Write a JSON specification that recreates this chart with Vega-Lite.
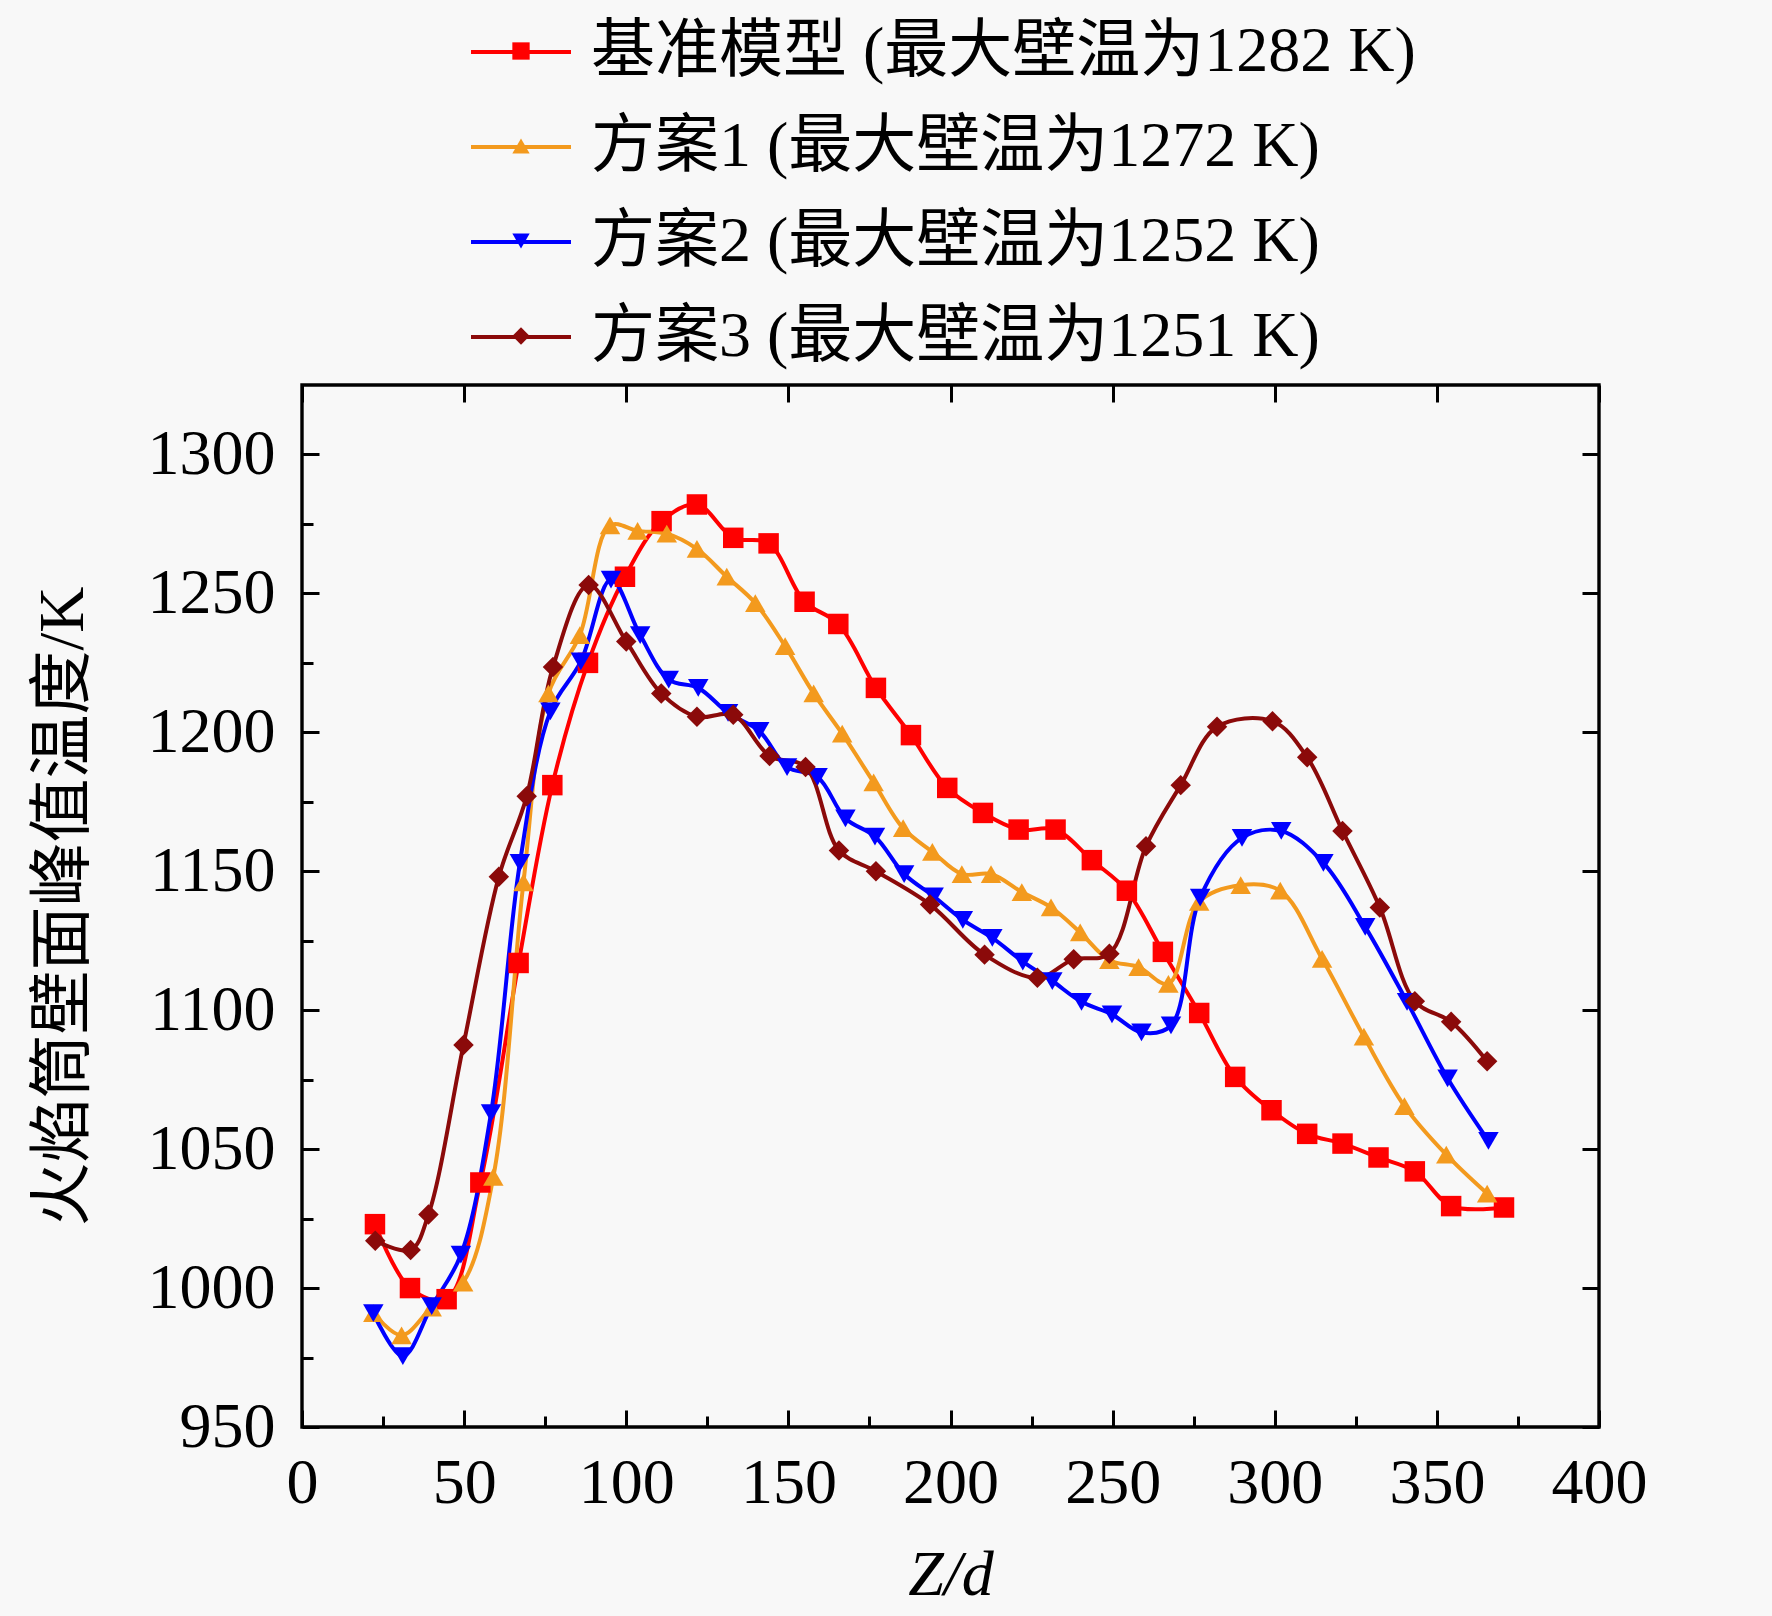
{
  "$schema": "https://vega.github.io/schema/vega-lite/v6.json",
  "width": 1297,
  "height": 1042,
  "autosize": {"type": "none"},
  "padding": {"left": 302, "top": 385, "right": 173, "bottom": 189},
  "background": "#f8f8f8",
  "config": {
    "font": "Liberation Serif, Noto Sans CJK SC",
    "view": {"stroke": "black", "strokeWidth": 3.4},
    "axis": {
      "grid": false, "domain": false,
      "tickColor": "black", "tickWidth": 3,
      "labelFont": "Liberation Serif, Noto Sans CJK SC", "labelFontSize": 64, "labelColor": "black",
      "titleFont": "Liberation Serif, Noto Sans CJK SC", "titleFontSize": 64, "titleFontWeight": "normal", "titleColor": "black"
    },
    "legend": {
      "labelFont": "Liberation Serif, Noto Sans CJK SC", "labelFontSize": 64, "labelColor": "black", "labelLimit": 2000
    }
  },
  "data": {"values": [
    {"series": "基准模型 (最大壁温为1282 K)", "z": 22.5, "t": 1023},
    {"series": "基准模型 (最大壁温为1282 K)", "z": 33.3, "t": 1000},
    {"series": "基准模型 (最大壁温为1282 K)", "z": 44.6, "t": 996},
    {"series": "基准模型 (最大壁温为1282 K)", "z": 55, "t": 1038},
    {"series": "基准模型 (最大壁温为1282 K)", "z": 66.8, "t": 1117},
    {"series": "基准模型 (最大壁温为1282 K)", "z": 77.2, "t": 1181},
    {"series": "基准模型 (最大壁温为1282 K)", "z": 88.2, "t": 1225},
    {"series": "基准模型 (最大壁温为1282 K)", "z": 99.6, "t": 1256},
    {"series": "基准模型 (最大壁温为1282 K)", "z": 110.9, "t": 1276},
    {"series": "基准模型 (最大壁温为1282 K)", "z": 121.8, "t": 1282},
    {"series": "基准模型 (最大壁温为1282 K)", "z": 133, "t": 1270},
    {"series": "基准模型 (最大壁温为1282 K)", "z": 143.9, "t": 1268},
    {"series": "基准模型 (最大壁温为1282 K)", "z": 155, "t": 1247},
    {"series": "基准模型 (最大壁温为1282 K)", "z": 165.4, "t": 1239},
    {"series": "基准模型 (最大壁温为1282 K)", "z": 177, "t": 1216},
    {"series": "基准模型 (最大壁温为1282 K)", "z": 187.8, "t": 1199},
    {"series": "基准模型 (最大壁温为1282 K)", "z": 199, "t": 1180},
    {"series": "基准模型 (最大壁温为1282 K)", "z": 210, "t": 1171},
    {"series": "基准模型 (最大壁温为1282 K)", "z": 221, "t": 1165},
    {"series": "基准模型 (最大壁温为1282 K)", "z": 232.4, "t": 1165},
    {"series": "基准模型 (最大壁温为1282 K)", "z": 243.6, "t": 1154},
    {"series": "基准模型 (最大壁温为1282 K)", "z": 254.4, "t": 1143},
    {"series": "基准模型 (最大壁温为1282 K)", "z": 265.5, "t": 1121},
    {"series": "基准模型 (最大壁温为1282 K)", "z": 276.7, "t": 1099},
    {"series": "基准模型 (最大壁温为1282 K)", "z": 287.8, "t": 1076},
    {"series": "基准模型 (最大壁温为1282 K)", "z": 299, "t": 1064},
    {"series": "基准模型 (最大壁温为1282 K)", "z": 310, "t": 1055.5},
    {"series": "基准模型 (最大壁温为1282 K)", "z": 320.9, "t": 1052},
    {"series": "基准模型 (最大壁温为1282 K)", "z": 332, "t": 1047},
    {"series": "基准模型 (最大壁温为1282 K)", "z": 343.2, "t": 1042},
    {"series": "基准模型 (最大壁温为1282 K)", "z": 354.4, "t": 1029.5},
    {"series": "基准模型 (最大壁温为1282 K)", "z": 370.7, "t": 1029},
    {"series": "方案1 (最大壁温为1272 K)", "z": 22, "t": 991},
    {"series": "方案1 (最大壁温为1272 K)", "z": 30.7, "t": 983},
    {"series": "方案1 (最大壁温为1272 K)", "z": 40, "t": 993},
    {"series": "方案1 (最大壁温为1272 K)", "z": 49.7, "t": 1002},
    {"series": "方案1 (最大壁温为1272 K)", "z": 59, "t": 1040},
    {"series": "方案1 (最大壁温为1272 K)", "z": 68.3, "t": 1146},
    {"series": "方案1 (最大壁温为1272 K)", "z": 76, "t": 1214},
    {"series": "方案1 (最大壁温为1272 K)", "z": 85.7, "t": 1235},
    {"series": "方案1 (最大壁温为1272 K)", "z": 95, "t": 1274.5},
    {"series": "方案1 (最大壁温为1272 K)", "z": 103.5, "t": 1272.5},
    {"series": "方案1 (最大壁温为1272 K)", "z": 112.5, "t": 1271.5},
    {"series": "方案1 (最大壁温为1272 K)", "z": 121.8, "t": 1266},
    {"series": "方案1 (最大壁温为1272 K)", "z": 131, "t": 1256},
    {"series": "方案1 (最大壁温为1272 K)", "z": 139.8, "t": 1246.5},
    {"series": "方案1 (最大壁温为1272 K)", "z": 149, "t": 1231},
    {"series": "方案1 (最大壁温为1272 K)", "z": 157.8, "t": 1214},
    {"series": "方案1 (最大壁温为1272 K)", "z": 166.6, "t": 1199.5},
    {"series": "方案1 (最大壁温为1272 K)", "z": 176.3, "t": 1182},
    {"series": "方案1 (最大壁温为1272 K)", "z": 185.4, "t": 1165.5},
    {"series": "方案1 (最大壁温为1272 K)", "z": 194.4, "t": 1157},
    {"series": "方案1 (最大壁温为1272 K)", "z": 203.5, "t": 1149},
    {"series": "方案1 (最大壁温为1272 K)", "z": 212.5, "t": 1149},
    {"series": "方案1 (最大壁温为1272 K)", "z": 222, "t": 1142.5},
    {"series": "方案1 (最大壁温为1272 K)", "z": 231, "t": 1137},
    {"series": "方案1 (最大壁温为1272 K)", "z": 240, "t": 1128},
    {"series": "方案1 (最大壁温为1272 K)", "z": 249, "t": 1118},
    {"series": "方案1 (最大壁温为1272 K)", "z": 258, "t": 1115.5},
    {"series": "方案1 (最大壁温为1272 K)", "z": 267.2, "t": 1109.5},
    {"series": "方案1 (最大壁温为1272 K)", "z": 276.7, "t": 1139},
    {"series": "方案1 (最大壁温为1272 K)", "z": 289.5, "t": 1145},
    {"series": "方案1 (最大壁温为1272 K)", "z": 301.7, "t": 1143},
    {"series": "方案1 (最大壁温为1272 K)", "z": 314.6, "t": 1118.5},
    {"series": "方案1 (最大壁温为1272 K)", "z": 327.5, "t": 1090.5},
    {"series": "方案1 (最大壁温为1272 K)", "z": 340, "t": 1065.5},
    {"series": "方案1 (最大壁温为1272 K)", "z": 352.9, "t": 1048},
    {"series": "方案1 (最大壁温为1272 K)", "z": 365.5, "t": 1034},
    {"series": "方案2 (最大壁温为1252 K)", "z": 22, "t": 991},
    {"series": "方案2 (最大壁温为1252 K)", "z": 31.1, "t": 975.5},
    {"series": "方案2 (最大壁温为1252 K)", "z": 40, "t": 993.5},
    {"series": "方案2 (最大壁温为1252 K)", "z": 49, "t": 1012},
    {"series": "方案2 (最大壁温为1252 K)", "z": 58.3, "t": 1063},
    {"series": "方案2 (最大壁温为1252 K)", "z": 67.2, "t": 1153},
    {"series": "方案2 (最大壁温为1252 K)", "z": 76.6, "t": 1207.5},
    {"series": "方案2 (最大壁温为1252 K)", "z": 86, "t": 1225.5},
    {"series": "方案2 (最大壁温为1252 K)", "z": 95.3, "t": 1255},
    {"series": "方案2 (最大壁温为1252 K)", "z": 104.3, "t": 1235},
    {"series": "方案2 (最大壁温为1252 K)", "z": 113.1, "t": 1219},
    {"series": "方案2 (最大壁温为1252 K)", "z": 122.2, "t": 1216},
    {"series": "方案2 (最大壁温为1252 K)", "z": 131.4, "t": 1207},
    {"series": "方案2 (最大壁温为1252 K)", "z": 141, "t": 1200.5},
    {"series": "方案2 (最大壁温为1252 K)", "z": 149.6, "t": 1187.5},
    {"series": "方案2 (最大壁温为1252 K)", "z": 159, "t": 1184},
    {"series": "方案2 (最大壁温为1252 K)", "z": 167.6, "t": 1169},
    {"series": "方案2 (最大壁温为1252 K)", "z": 176.7, "t": 1162.5},
    {"series": "方案2 (最大壁温为1252 K)", "z": 185.7, "t": 1149},
    {"series": "方案2 (最大壁温为1252 K)", "z": 194.8, "t": 1141},
    {"series": "方案2 (最大壁温为1252 K)", "z": 203.8, "t": 1132.5},
    {"series": "方案2 (最大壁温为1252 K)", "z": 212.9, "t": 1126},
    {"series": "方案2 (最大壁温为1252 K)", "z": 222.3, "t": 1117.5},
    {"series": "方案2 (最大壁温为1252 K)", "z": 231.4, "t": 1110.5},
    {"series": "方案2 (最大壁温为1252 K)", "z": 240.4, "t": 1103},
    {"series": "方案2 (最大壁温为1252 K)", "z": 249.8, "t": 1098.5},
    {"series": "方案2 (最大壁温为1252 K)", "z": 258.9, "t": 1092},
    {"series": "方案2 (最大壁温为1252 K)", "z": 268, "t": 1094.5},
    {"series": "方案2 (最大壁温为1252 K)", "z": 277, "t": 1140.5},
    {"series": "方案2 (最大壁温为1252 K)", "z": 289.9, "t": 1162},
    {"series": "方案2 (最大壁温为1252 K)", "z": 302, "t": 1164.5},
    {"series": "方案2 (最大壁温为1252 K)", "z": 315, "t": 1153},
    {"series": "方案2 (最大壁温为1252 K)", "z": 327.9, "t": 1130},
    {"series": "方案2 (最大壁温为1252 K)", "z": 340.8, "t": 1103},
    {"series": "方案2 (最大壁温为1252 K)", "z": 353.3, "t": 1075.5},
    {"series": "方案2 (最大壁温为1252 K)", "z": 365.9, "t": 1053},
    {"series": "方案3 (最大壁温为1251 K)", "z": 22.6, "t": 1017},
    {"series": "方案3 (最大壁温为1251 K)", "z": 33.5, "t": 1013.7},
    {"series": "方案3 (最大壁温为1251 K)", "z": 39, "t": 1026.5},
    {"series": "方案3 (最大壁温为1251 K)", "z": 49.8, "t": 1087.5},
    {"series": "方案3 (最大壁温为1251 K)", "z": 60.7, "t": 1148},
    {"series": "方案3 (最大壁温为1251 K)", "z": 69.3, "t": 1177},
    {"series": "方案3 (最大壁温为1251 K)", "z": 77.4, "t": 1223.5},
    {"series": "方案3 (最大壁温为1251 K)", "z": 88.4, "t": 1253},
    {"series": "方案3 (最大壁温为1251 K)", "z": 100, "t": 1232.7},
    {"series": "方案3 (最大壁温为1251 K)", "z": 110.8, "t": 1214},
    {"series": "方案3 (最大壁温为1251 K)", "z": 121.8, "t": 1205.6},
    {"series": "方案3 (最大壁温为1251 K)", "z": 133, "t": 1206.3},
    {"series": "方案3 (最大壁温为1251 K)", "z": 144.2, "t": 1191.5},
    {"series": "方案3 (最大壁温为1251 K)", "z": 155.3, "t": 1187.5},
    {"series": "方案3 (最大壁温为1251 K)", "z": 165.6, "t": 1157.5},
    {"series": "方案3 (最大壁温为1251 K)", "z": 177, "t": 1150},
    {"series": "方案3 (最大壁温为1251 K)", "z": 193.7, "t": 1138},
    {"series": "方案3 (最大壁温为1251 K)", "z": 210.5, "t": 1120},
    {"series": "方案3 (最大壁温为1251 K)", "z": 226.8, "t": 1111.7},
    {"series": "方案3 (最大壁温为1251 K)", "z": 238, "t": 1118.3},
    {"series": "方案3 (最大壁温为1251 K)", "z": 249, "t": 1120.3},
    {"series": "方案3 (最大壁温为1251 K)", "z": 260.3, "t": 1159},
    {"series": "方案3 (最大壁温为1251 K)", "z": 271, "t": 1181},
    {"series": "方案3 (最大壁温为1251 K)", "z": 282.2, "t": 1202},
    {"series": "方案3 (最大壁温为1251 K)", "z": 299.3, "t": 1204},
    {"series": "方案3 (最大壁温为1251 K)", "z": 310, "t": 1191},
    {"series": "方案3 (最大壁温为1251 K)", "z": 320.9, "t": 1164.5},
    {"series": "方案3 (最大壁温为1251 K)", "z": 332.4, "t": 1137},
    {"series": "方案3 (最大壁温为1251 K)", "z": 343.2, "t": 1103.2},
    {"series": "方案3 (最大壁温为1251 K)", "z": 354.4, "t": 1095.8},
    {"series": "方案3 (最大壁温为1251 K)", "z": 365.5, "t": 1081.6}
  ]},
  "layer": [
    {
      "mark": {"type": "line", "interpolate": "catmull-rom", "strokeWidth": 4},
      "encoding": {
        "x": {
          "field": "z", "type": "quantitative",
          "scale": {"domain": [0, 400], "nice": false, "zero": false},
          "axis": {
            "orient": "bottom", "title": "Z/d", "titleFontStyle": "italic", "titlePadding": 22,
            "values": [0, 25, 50, 75, 100, 125, 150, 175, 200, 225, 250, 275, 300, 325, 350, 375, 400],
            "format": "d",
            "labelExpr": "datum.value % 50 === 0 ? datum.label : ''",
            "tickSize": {"condition": {"test": "datum.value % 50 === 0", "value": -17}, "value": -11},
            "labelPadding": 41, "labelFlush": false, "labelOverlap": false
          }
        },
        "y": {
          "field": "t", "type": "quantitative",
          "scale": {"domain": [950, 1325], "nice": false, "zero": false},
          "axis": {
            "orient": "left", "title": "火焰筒壁面峰值温度/K", "titlePadding": 52,
            "values": [950, 975, 1000, 1025, 1050, 1075, 1100, 1125, 1150, 1175, 1200, 1225, 1250, 1275, 1300],
            "format": "d",
            "labelExpr": "datum.value % 50 === 0 ? datum.label : ''",
            "tickSize": {"condition": {"test": "datum.value % 50 === 0", "value": -17}, "value": -11},
            "labelPadding": 44, "labelFlush": false, "labelOverlap": false
          }
        },
        "color": {
          "field": "series", "type": "nominal",
          "scale": {
            "domain": ["基准模型 (最大壁温为1282 K)", "方案1 (最大壁温为1272 K)", "方案2 (最大壁温为1252 K)", "方案3 (最大壁温为1251 K)"],
            "range": ["#ff0000", "#f39a1e", "#0000ff", "#8b0a0a"]
          },
          "legend": {
            "orient": "none", "legendX": 167, "legendY": -385, "title": null,
            "symbolType": "stroke", "symbolSize": 10000, "symbolStrokeWidth": 4,
            "labelOffset": 18, "rowPadding": 11, "padding": 0
          }
        }
      }
    },
    {
      "mark": {"type": "point", "filled": true, "opacity": 1, "strokeWidth": 0, "size": 420},
      "encoding": {
        "x": {
          "field": "z", "type": "quantitative",
          "axis": {"orient": "top", "title": null, "labels": false, "values": [0, 50, 100, 150, 200, 250, 300, 350, 400], "tickSize": -17}
        },
        "y": {
          "field": "t", "type": "quantitative",
          "axis": {"orient": "right", "title": null, "labels": false, "values": [950, 1000, 1050, 1100, 1150, 1200, 1250, 1300], "tickSize": -17}
        },
        "color": {
          "field": "series", "type": "nominal",
          "scale": {
            "domain": ["基准模型 (最大壁温为1282 K)", "方案1 (最大壁温为1272 K)", "方案2 (最大壁温为1252 K)", "方案3 (最大壁温为1251 K)"],
            "range": ["#ff0000", "#f39a1e", "#0000ff", "#8b0a0a"]
          },
          "legend": {
            "orient": "none", "legendX": 187, "legendY": -366, "title": null,
            "symbolSize": 300, "labelExpr": "''", "rowPadding": 31, "padding": 0
          }
        },
        "shape": {
          "field": "series", "type": "nominal",
          "scale": {
            "domain": ["基准模型 (最大壁温为1282 K)", "方案1 (最大壁温为1272 K)", "方案2 (最大壁温为1252 K)", "方案3 (最大壁温为1251 K)"],
            "range": ["square", "triangle-up", "triangle-down", "diamond"]
          },
          "legend": {
            "orient": "none", "legendX": 187, "legendY": -366, "title": null,
            "symbolSize": 300, "labelExpr": "''", "rowPadding": 31, "padding": 0
          }
        }
      }
    }
  ],
  "resolve": {
    "axis": {"x": "independent", "y": "independent"},
    "scale": {"color": "independent", "shape": "independent"}
  }
}
